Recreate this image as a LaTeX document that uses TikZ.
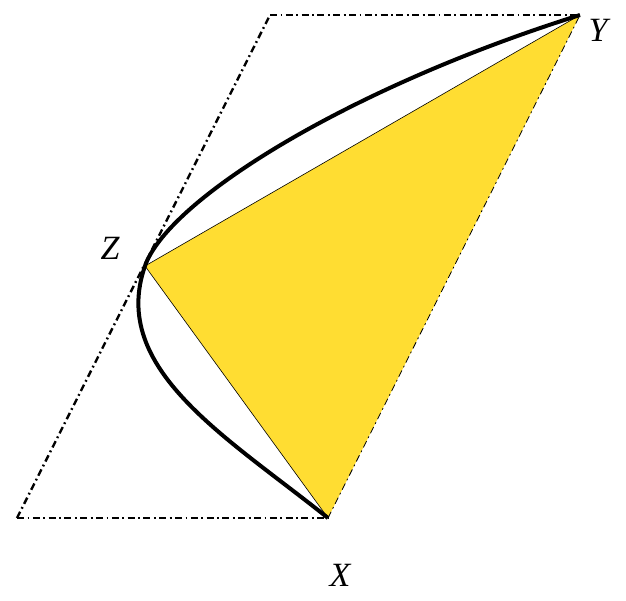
\documentclass[tikz,border=0pt]{standalone}
\usepackage{fontspec}
\setmainfont{Liberation Serif}
\definecolor{tri}{RGB}{255,221,50}
\begin{document}
\begin{tikzpicture}[x=1pt,y=-1pt,
  dashdot/.style={line width=2.4pt,dash pattern=on 7pt off 3.5pt on 1.8pt off 3.5pt},
  lab/.style={font=\fontsize{34}{38}\selectfont\itshape,inner sep=0pt}]
\useasboundingbox (0,0) rectangle (626,600);
\coordinate (X) at (328,518);
\coordinate (Y) at (580,15);
\coordinate (Z) at (145,266);
\coordinate (BL) at (17,518);
\coordinate (TL) at (270,15);
\fill[tri] (X) -- (Y) -- (Z) -- cycle;
\draw[dashdot] (BL) -- (X);
\draw[dashdot] (TL) -- (Y);
\draw[dashdot] (BL) -- (TL);
\draw[line width=0.8pt,dash pattern=on 7pt off 3.5pt on 1.8pt off 3.5pt] (X) -- (Y);
\draw[line width=0.6pt] (X) -- (Z) -- (Y);
\draw[line width=4pt] (X) .. controls (227,437) and (109,369) .. (Z)
  .. controls (168,200) and (347,88) .. (Y);
\node[lab] (lx) at (340,575) {X};
\node[lab] (ly) at (598,30) {Y};
\node[lab] (lz) at (110,248) {Z};
\end{tikzpicture}
\end{document}
